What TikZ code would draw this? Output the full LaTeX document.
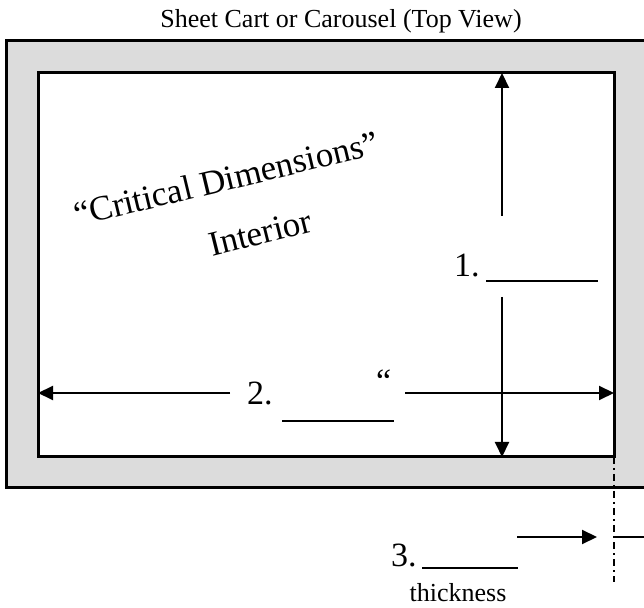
\documentclass[tikz,border=0pt]{standalone}
\usepackage{fontspec}
\setmainfont{Liberation Serif}
\usetikzlibrary{arrows.meta}
\definecolor{framegray}{RGB}{220,220,220}
\tikzset{
  frameline/.style={line width=3pt},
  dimarrow/.style={line width=2pt,-{Triangle[length=15pt,width=14pt]}},
  blank/.style={line width=2.5pt},
  bigtext/.style={font=\fontsize{34}{40}\selectfont,inner sep=0pt},
  rottext/.style={font=\fontsize{35}{40}\selectfont,inner sep=0pt},
  smalltext/.style={font=\fontsize{26}{30}\selectfont,inner sep=0pt},
}
\begin{document}
\begin{tikzpicture}[x=1pt,y=1pt]
\useasboundingbox (0,0) rectangle (644,607);
% frame
\draw[frameline,fill=framegray] (6,566) -- (660,566) -- (660,119) -- (6,119) -- cycle;
\draw[frameline,fill=white] (38,534) rectangle (614,150);
\node[smalltext,anchor=base] (title) at (341,579) {Sheet Cart or Carousel (Top View)};
% rotated labels
\node[rottext,anchor=base,rotate=13.5] (crit) at (229,417) {“Critical Dimensions”};
\node[rottext,anchor=base,rotate=14] (inter) at (263,363) {Interior};
% vertical dimension
\coordinate (v1) at (502,391);
\coordinate (vtop) at (502,534);
\coordinate (v2) at (502,310);
\coordinate (vbot) at (502,150);
\draw[dimarrow] (v1) -- (vtop);
\draw[dimarrow] (v2) -- (vbot);
\node[bigtext,anchor=base west] (one) at (454,330) {1.};
\coordinate (u1a) at (486,326);
\coordinate (u1b) at (598,326);
\draw[blank] (u1a) -- (u1b);
% horizontal dimension
\coordinate (h1) at (230,214);
\coordinate (hleft) at (38,214);
\coordinate (h2) at (405,214);
\coordinate (hright) at (614,214);
\draw[dimarrow] (h1) -- (hleft);
\draw[dimarrow] (h2) -- (hright);
\node[bigtext,anchor=base west] (two) at (247,202) {2.};
\coordinate (u2a) at (282,186);
\coordinate (u2b) at (394,186);
\draw[blank] (u2a) -- (u2b);
\node[bigtext,anchor=base west] (quote) at (376,214) {“};
% thickness
\coordinate (d1) at (614,150);
\coordinate (d2) at (614,25);
\draw[line width=1.5pt,dash pattern=on 7pt off 4pt on 2pt off 4pt] (d1) -- (d2);
\coordinate (t1) at (517,70);
\coordinate (t2) at (597,70);
\draw[dimarrow] (t1) -- (t2);
\coordinate (r1) at (614,70);
\coordinate (r2) at (648,70);
\draw[line width=2pt] (r1) -- (r2);
\node[bigtext,anchor=base west] (three) at (391,41) {3.};
\coordinate (u3a) at (422,39);
\coordinate (u3b) at (518,39);
\draw[blank] (u3a) -- (u3b);
\node[smalltext,anchor=base] (thick) at (458,6) {thickness};
\end{tikzpicture}
\end{document}
